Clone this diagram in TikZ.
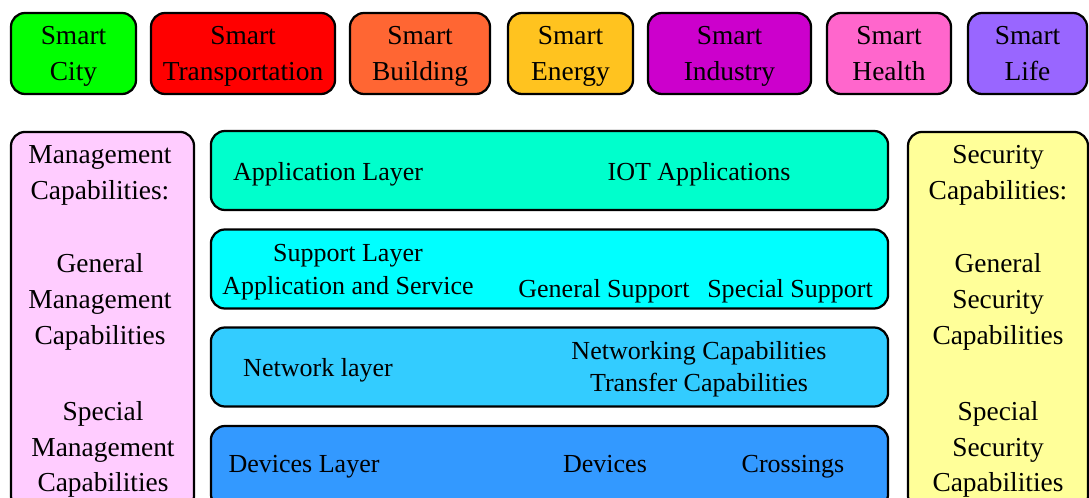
\documentclass[tikz,border=0pt]{standalone}
\usepackage{fontspec}
\setmainfont{Liberation Serif}
\usepackage{xcolor}
\usepackage{tikz}
\usetikzlibrary{positioning}

% domain colours
\definecolor{cityC}{HTML}{00FF00}
\definecolor{transC}{HTML}{FF0000}
\definecolor{buildC}{HTML}{FF6633}
\definecolor{energyC}{HTML}{FFC31F}
\definecolor{industryC}{HTML}{CC00CC}
\definecolor{healthC}{HTML}{FF66CC}
\definecolor{lifeC}{HTML}{9966FF}
% layer and side colours
\definecolor{mgmtC}{HTML}{FFCCFF}
\definecolor{secC}{HTML}{FFFF99}
\definecolor{appC}{HTML}{00FFCC}
\definecolor{suppC}{HTML}{00FFFF}
\definecolor{netC}{HTML}{33CCFF}
\definecolor{devC}{HTML}{3399FF}

\begin{document}
\begin{tikzpicture}[
    x=0.025cm, y=-0.025cm,
    smartbox/.style={rectangle, draw, line width=1.6pt, rounded corners=10pt, align=center, inner sep=0pt, text depth=0pt, minimum height=2.025cm, font=\fontsize{19.5}{25.5}\selectfont},
    layer/.style={rectangle, draw, line width=1.6pt, rounded corners=10pt, minimum width=16.925cm, minimum height=1.975cm},
    side/.style={rectangle, draw, line width=1.6pt, rounded corners=10pt, minimum height=9.45cm},
    lbl/.style={align=center, inner sep=0pt, text depth=0pt, font=\fontsize{18.5}{23.4}\selectfont},
    sidelbl/.style={align=center, inner sep=0pt, text depth=0pt, font=\fontsize{19.5}{25.5}\selectfont}
]
    \useasboundingbox (0,0) rectangle (1089,498);
    \clip (0,0) rectangle (1089,498);

    % application domains
    \node (city) [smartbox, fill=cityC, minimum width=3.125cm] at (73.5,53.5) {Smart\\City};
    \node (trans) [smartbox, fill=transC, minimum width=4.6cm] at (243,53.5) {Smart\\Transportation};
    \node (build) [smartbox, fill=buildC, minimum width=3.5cm] at (420,53.5) {Smart\\Building};
    \node (energy) [smartbox, fill=energyC, minimum width=3.125cm] at (570.5,53.5) {Smart\\Energy};
    \node (industry) [smartbox, fill=industryC, minimum width=4.075cm] at (729.5,53.5) {Smart\\Industry};
    \node (health) [smartbox, fill=healthC, minimum width=3.1cm] at (889,53.5) {Smart\\Health};
    \node (life) [smartbox, fill=lifeC, minimum width=2.975cm] at (1027.5,53.5) {Smart\\Life};

    % side panels
    \node (mgmt) [side, fill=mgmtC, minimum width=4.575cm] at (102.5,321) {};
    \node (sec) [side, fill=secC, minimum width=4.5cm] at (998,321) {};
    \node (mgmtT) [sidelbl] at (100,172.5) {Management\\Capabilities:};
    \node (mgmtG) [sidelbl] at (100,299) {General\\Management\\Capabilities};
    \node (mgmtS) [sidelbl] at (103,446.5) {Special\\Management\\Capabilities};
    \node (secT) [sidelbl] at (998,172.5) {Security\\Capabilities:};
    \node (secG) [sidelbl] at (998,299) {General\\Security\\Capabilities};
    \node (secS) [sidelbl] at (998,446.5) {Special\\Security\\Capabilities};

    % the four layers
    \node (appL) [layer, fill=appC] at (549.5,170.5) {};
    \node (suppL) [layer, fill=suppC] at (549.5,269) {};
    \node (netL) [layer, fill=netC] at (549.5,367) {};
    \node (devL) [layer, fill=devC, minimum height=2.05cm] at (549.5,467) {};

    \node (appN) [lbl] at (328,171) {Application Layer};
    \node (appI) [lbl] at (699,171) {IOT Applications};
    \node (suppN) [lbl] at (348,269.5) {Support Layer\\Application and Service};
    \node (suppG) [lbl] at (604,288) {General Support};
    \node (suppS) [lbl] at (790,288) {Special Support};
    \node (netN) [lbl] at (318,367) {Network layer};
    \node (netT) [lbl] at (699,366.5) {Networking Capabilities\\Transfer Capabilities};
    \node (devN) [lbl] at (304,464) {Devices Layer};
    \node (devD) [lbl] at (605,464) {Devices};
    \node (devX) [lbl] at (793,464) {Crossings};
\end{tikzpicture}
\end{document}
